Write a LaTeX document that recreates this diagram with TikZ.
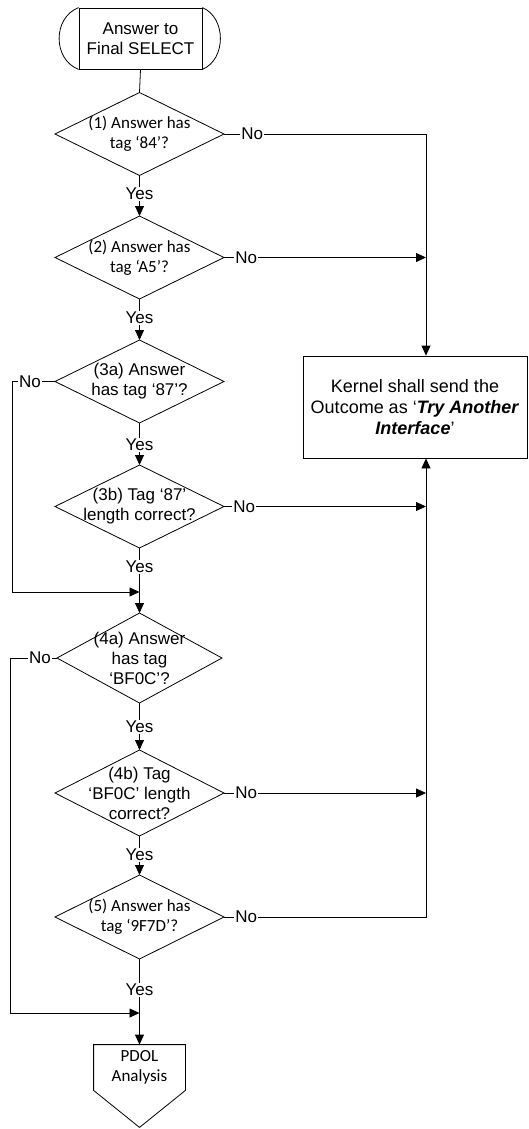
\documentclass[tikz,border=0pt]{standalone}
\usepackage{fontspec}
\setmainfont{Liberation Sans}
\newfontfamily\calfont{Carlito}
\usetikzlibrary{shapes.geometric,arrows.meta}
\begin{document}
\begin{tikzpicture}[x=1pt,y=-1pt,line width=0.8pt,
  arr/.style={-{Triangle[length=10pt,width=9pt]}},
  txt/.style={align=center,inner sep=0pt,font=\fontsize{17}{20}\selectfont},
  ctxt/.style={align=center,inner sep=0pt,font=\calfont\fontsize{17}{20}\selectfont},
  dia/.style={draw,shape=diamond,minimum width=169pt,minimum height=83pt,inner sep=0pt,outer sep=0pt},
  lab/.style={fill=white,inner sep=1pt,font=\fontsize{17}{20}\selectfont}]
\useasboundingbox (0,0) rectangle (528,1129);
% terminal
\node[draw,txt,minimum width=123pt,minimum height=61pt] (start) at (140.5,38.5) {Answer to\\Final SELECT};
\draw (start.north west) .. controls +(-26,10) and +(-26,-10) .. (start.south west);
\draw (start.north east) .. controls +(24,10) and +(24,-10) .. (start.south east);
% diamonds
\node[dia] (d1) at (139.5,134) {};
\node[ctxt] (t1) at (d1) {(1) Answer has\\tag ‘84’?};
\node[dia] (d2) at (139.5,257.5) {};
\node[ctxt] (t2) at (d2) {(2) Answer has\\tag ‘A5’?};
\node[dia] (d3a) at (139.5,381.5) {};
\node[txt] (t3a) at (d3a) {(3a) Answer\\has tag ‘87’?};
\node[dia] (d3b) at (139.5,506.5) {};
\node[txt] (t3b) at (d3b) {(3b) Tag ‘87’\\length correct?};
\node[dia,minimum height=90pt,minimum width=165pt] (d4a) at (139.5,658) {};
\node[txt] (t4a) at (d4a) {(4a) Answer\\has tag\\‘BF0C’?};
\node[dia,minimum height=86pt] (d4b) at (139.5,793) {};
\node[txt] (t4b) at (d4b) {(4b) Tag\\‘BF0C’ length\\correct?};
\node[dia,minimum height=84pt] (d5) at (139.5,917) {};
\node[ctxt] (t5) at (d5) {(5) Answer has\\tag ‘9F7D’?};
% kernel box
\node[draw,align=center,inner sep=0pt,font=\fontsize{18}{21}\selectfont,minimum width=224pt,minimum height=102pt] (k) at (415,407)
  {Kernel shall send the\\Outcome as ‘\textbf{\textit{Try Another}}\\\textbf{\textit{Interface}}’};
% pdol
\node[ctxt,minimum width=91pt,minimum height=45pt] (pdol) at (139.5,1067.5) {PDOL\\Analysis};
\draw (pdol.north west) -- (pdol.north east) -- (pdol.south east) -- ([yshift=-37pt]pdol.south) -- (pdol.south west) -- cycle;
% helper coordinates
\coordinate (kx) at (426,0);
\coordinate (l1) at (12,0);
\coordinate (l2) at (10,0);
\coordinate (m1) at (139.5,592);
\coordinate (m2) at (139.5,1013);
% main flow
\draw (start.south) -- (d1.north);
\draw[arr] (d1.south) -- node[lab,pos=.45]{Yes} (d2.north);
\draw[arr] (d2.south) -- node[lab,pos=.46]{Yes} (d3a.north);
\draw[arr] (d3a.south) -- node[lab,pos=.52]{Yes} (d3b.north);
\draw[arr] (d3b.south) -- node[lab,pos=.29]{Yes} (d4a.north);
\draw[arr] (d4a.south) -- node[lab,pos=.51]{Yes} (d4b.north);
\draw[arr] (d4b.south) -- node[lab,pos=.49]{Yes} (d5.north);
\draw[arr] (d5.south) -- node[lab,pos=.36]{Yes} (pdol.north);
% no branches right
\draw[arr] (d1.east) -- node[lab,pos=.14]{No} (d1.east -| kx) -- (kx |- k.north);
\draw[arr] (d2.east) -- node[lab,pos=.11]{No} (d2.east -| kx);
\draw[arr] (d3b.east) -- node[lab,pos=.10]{No} (d3b.east -| kx);
\draw[arr] (d4b.east) -- node[lab,pos=.11]{No} (d4b.east -| kx);
\draw[arr] (d5.east) -- node[lab,pos=.11]{No} (d5.east -| kx) -- (kx |- k.south);
% no branches left
\draw[arr] (d3a.west) -- node[lab,pos=.58]{No} (d3a.west -| l1) -- (l1 |- m1) -- (m1);
\draw[arr] (d4a.west) -- node[lab,pos=.36]{No} (d4a.west -| l2) -- (l2 |- m2) -- (m2);
\end{tikzpicture}
\end{document}
